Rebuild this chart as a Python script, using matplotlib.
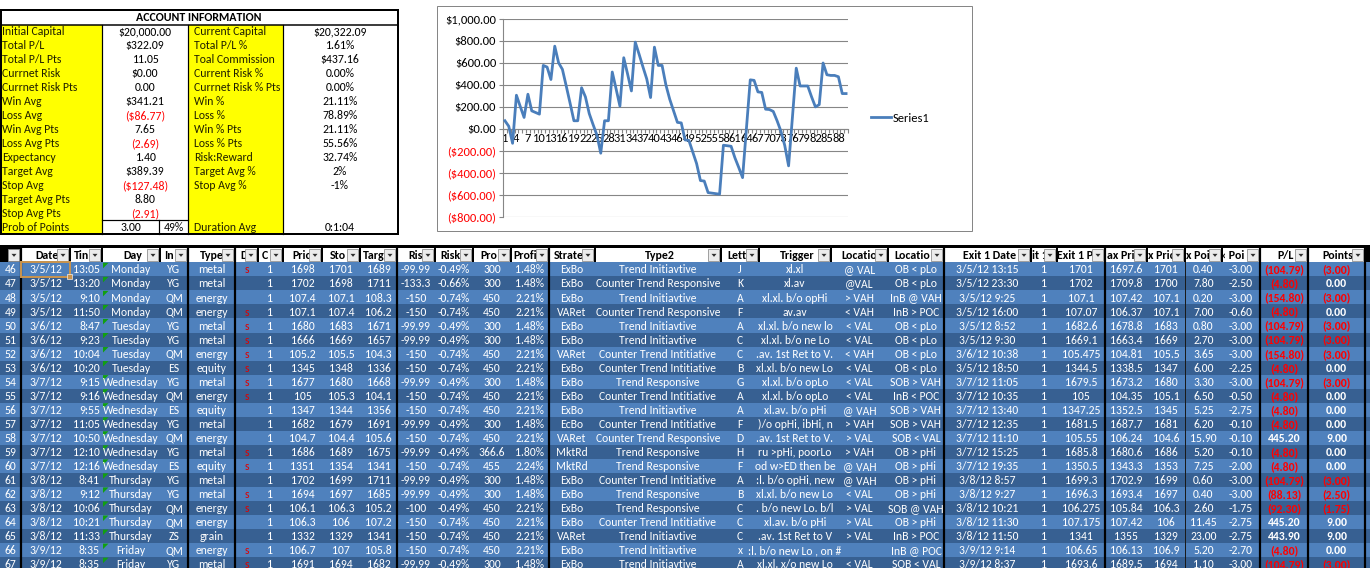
import matplotlib
matplotlib.use('Agg')
import matplotlib.pyplot as plt
from matplotlib.patches import Rectangle, Polygon
from matplotlib import font_manager
import numpy as np

_names = {f.name for f in font_manager.fontManager.ttflist}
FONT = next(n for n in ['Carlito', 'Liberation Sans', 'DejaVu Sans'] if n in _names)
plt.rcParams['font.family'] = [FONT, 'DejaVu Sans']

# ---------------- data: account information ----------------
info_labels_left = ['Initial Capital', 'Total P/L', 'Total P/L Pts', 'Currnet Risk', 'Currnet Risk Pts',
                    'Win Avg', 'Loss Avg', 'Win Avg Pts', 'Loss Avg Pts', 'Expectancy', 'Target Avg',
                    'Stop Avg', 'Target Avg Pts', 'Stop Avg Pts', 'Prob of Points']
info_values_left = ['$20,000.00', '$322.09', '11.05', '$0.00', '0.00', '$341.21', '($86.77)', '7.65',
                    '(2.69)', '1.40', '$389.39', '($127.48)', '8.80', '(2.91)', '3.00']
prob_points_pct = '49%'
info_labels_right = ['Current Capital', 'Total P/L %', 'Toal Commission', 'Current Risk %',
                     'Currnet Risk % Pts', 'Win %', 'Loss %', 'Win % Pts', 'Loss % Pts', 'Risk:Reward',
                     'Target Avg %', 'Stop Avg %', '', '', 'Duration Avg']
info_values_right = ['$20,322.09', '1.61%', '$437.16', '0.00%', '0.00%', '21.11%', '78.89%', '21.11%',
                     '55.56%', '32.74%', '2%', '-1%', '', '', '0:1:04']

# ---------------- data: cumulative P/L chart ----------------
cum_pl = [75, 25, -130, 307, 205, 105, 316, 165, 150, 135,
          578, 563, 450, 753, 602, 542, 390, 235, 75, 75,
          375, 292, 140, 40, -55, -220, 75, 75, 518, 365,
          208, 648, 500, 346, 790, 680, 565, 455, 286, 744,
          578, 578, 400, 270, 165.00, 60.21, 55.41, -99.39, -104.19, -208.98,
          -313.77, -468.57, -473.37, -578.16, -582.96, -587.76, -592.56, -147.36, -152.16, -156.96,
          -261.75, -349.88, -442.18, 3.02, 446.92, 442.12, 337.33, 332.53, 180, 177,
          160, 75, -20, -150, -335, 105, 553, 391, 391, 391,
          292, 201, 222, 600, 493, 487, 487, 475, 322.09, 322.09]
series_name = 'Series1'
y_ticks = [-800, -600, -400, -200, 0, 200, 400, 600, 800, 1000]

# ---------------- data: trade table ----------------
headers = ['', 'Date', 'Tin', 'Day', 'In', 'Type', 'D', 'C', 'Pric', 'Sto', 'Targ', 'Ris', 'Risk', 'Pro',
           'Profi', 'Strate', 'Type2', 'Lett', 'Trigger', 'Locatio', 'Locatio', 'Exit 1 Date', 'it 1',
           'Exit 1 P', 'ax Pric', 'x Pric', 'x Poi', '\u2039 Poi', 'P/L', 'Points']
row_nums = ['46', '47', '48', '49', '50', '51', '52', '53', '54', '55', '56', '57', '58', '59', '60',
            '61', '62', '63', '64', '65', '66', '67']
dates = ['3/5/12', '3/5/12', '3/5/12', '3/5/12', '3/6/12', '3/6/12', '3/6/12', '3/6/12', '3/7/12',
         '3/7/12', '3/7/12', '3/7/12', '3/7/12', '3/7/12', '3/7/12', '3/8/12', '3/8/12', '3/8/12',
         '3/8/12', '3/8/12', '3/9/12', '3/9/12']
times = ['13:05', '13:20', '9:10', '11:50', '8:47', '9:23', '10:04', '10:20', '9:15', '9:16', '9:55',
         '11:05', '10:50', '12:10', '12:16', '8:41', '9:12', '10:06', '10:21', '11:33', '8:35', '8:35']
days = ['Monday', 'Monday', 'Monday', 'Monday', 'Tuesday', 'Tuesday', 'Tuesday', 'Tuesday', 'Wednesday',
        'Wednesday', 'Wednesday', 'Wednesday', 'Wednesday', 'Wednesday', 'Wednesday', 'Thursday',
        'Thursday', 'Thursday', 'Thursday', 'Thursday', 'Friday', 'Friday']
instruments = ['YG', 'YG', 'QM', 'QM', 'YG', 'YG', 'QM', 'ES', 'YG', 'QM', 'ES', 'YG', 'QM', 'YG', 'ES',
               'YG', 'YG', 'QM', 'QM', 'ZS', 'QM', 'YG']
types = ['metal', 'metal', 'energy', 'energy', 'metal', 'metal', 'energy', 'equity', 'metal', 'energy',
         'equity', 'metal', 'energy', 'metal', 'equity', 'metal', 'metal', 'energy', 'energy', 'grain',
         'energy', 'metal']
directions = ['s', '', '', 's', 's', 's', 's', 's', 's', 's', '', '', '', 's', 's', '', 's', 's', '', '',
              's', 's']
contracts = ['1'] * 22
prices = ['1698', '1702', '107.4', '107.1', '1680', '1666', '105.2', '1345', '1677', '105', '1347',
          '1682', '104.7', '1686', '1351', '1702', '1694', '106.1', '106.3', '1332', '106.7', '1691']
stops = ['1701', '1698', '107.1', '107.4', '1683', '1669', '105.5', '1348', '1680', '105.3', '1344',
         '1679', '104.4', '1689', '1354', '1699', '1697', '106.3', '106', '1329', '107', '1694']
targets = ['1689', '1711', '108.3', '106.2', '1671', '1657', '104.3', '1336', '1668', '104.1', '1356',
           '1691', '105.6', '1675', '1341', '1711', '1685', '105.2', '107.2', '1341', '105.8', '1682']
risk_usd = ['-99.99', '-133.3', '-150', '-150', '-99.99', '-99.99', '-150', '-150', '-99.99', '-150',
            '-150', '-99.99', '-150', '-99.99', '-150', '-99.99', '-99.99', '-100', '-150', '-150',
            '-150', '-99.99']
risk_pct = ['-0.49%', '-0.66%', '-0.74%', '-0.74%', '-0.49%', '-0.49%', '-0.74%', '-0.74%', '-0.49%',
            '-0.74%', '-0.74%', '-0.49%', '-0.74%', '-0.49%', '-0.74%', '-0.49%', '-0.49%', '-0.49%',
            '-0.74%', '-0.74%', '-0.74%', '-0.49%']
profit_usd = ['300', '300', '450', '450', '300', '300', '450', '450', '300', '450', '450', '300', '450',
              '366.6', '455', '300', '300', '450', '450', '450', '450', '300']
profit_pct = ['1.48%', '1.48%', '2.21%', '2.21%', '1.48%', '1.48%', '2.21%', '2.21%', '1.48%', '2.21%',
              '2.21%', '1.48%', '2.21%', '1.80%', '2.24%', '1.48%', '1.48%', '2.21%', '2.21%', '2.21%',
              '2.21%', '1.48%']
strategies = ['ExBo', 'ExBo', 'ExBo', 'VARet', 'ExBo', 'ExBo', 'VARet', 'ExBo', 'ExBo', 'ExBo', 'ExBo',
              'EcBo', 'VARet', 'MktRd', 'MktRd', 'ExBo', 'ExBo', 'ExBo', 'ExBo', 'VARet', 'ExBo', 'ExBo']
type2 = ['Trend Initiavtive', 'Counter Trend Responsive', 'Trend Initiavtive', 'Counter Trend Responsive',
         'Trend Initiavtive', 'Trend Initiavtive', 'Counter Trend Intitiative',
         'Counter Trend Intitiative', 'Trend Responsive', 'Counter Trend Intitiative',
         'Trend Initiavtive', 'Counter Trend Intitiative', 'Counter Trend Responsive',
         'Trend Responsive', 'Trend Responsive', 'Counter Trend Intitiative', 'Trend Responsive',
         'Trend Responsive', 'Counter Trend Intitiative', 'Trend Initiavtive', 'Trend Initiavtive',
         'Trend Initiavtive']
letters = ['J', 'K', 'A', 'F', 'A', 'C', 'C', 'B', 'G', 'A', 'A', 'F', 'D', 'H', 'F', 'A', 'B', 'C', 'C',
           'C', 'x', 'A']
triggers = ['xl.xl', 'xl.av', 'xl.xl. b/o opHi', 'av.av', 'xl.xl. b/o new lo', 'xl.xl. b/o ne Lo',
            '.av. 1st Ret to V.', 'xl.xl. b/o new Lo', 'xl.xl. b/o opLo', 'xl.xl. b/o opLo',
            'xl.av. b/o pHi', ')/o opHi, ibHi, n', '.av. 1st Ret to V.', 'ru >pHi, poorLo',
            'od w>ED then be', ':l. b/o opHi, new', 'xl.xl. b/o new Lo', '. b/o new Lo. b/l',
            'xl.av. b/o pHi', '.av. 1st Ret to V', ':l. b/o new Lo , on #', 'xl.xl. x/o new Lo']
locations1 = ['@ VAL', '@VAL', '> VAH', '< VAH', '< VAL', '< VAL', '< VAH', '< VAL', '< VAL', '< VAL',
              '@ VAH', '> VAH', '> VAL', '> VAH', '@ VAH', '@ VAH', '< VAL', '> VAL', '> VAL', '> VAL',
              '', '< VAL']
locations2 = ['OB < pLo', 'OB < pLo', 'InB @ VAH', 'InB > POC', 'OB < pLo', 'OB < pLo', 'OB < pLo',
              'OB < pLo', 'SOB > VAH', 'InB < POC', 'SOB > VAH', 'SOB > VAH', 'SOB < VAL', 'OB > pHi',
              'OB > pHi', 'OB > pHi', 'OB > pHi', 'SOB @ VAH', 'OB > pHi', 'InB > POC', 'InB @ POC',
              'SOB < VAL']
exit_dates = ['3/5/12 13:15', '3/5/12 23:30', '3/5/12 9:25', '3/5/12 16:00', '3/5/12 8:52',
              '3/5/12 9:30', '3/6/12 10:38', '3/5/12 18:50', '3/7/12 11:05', '3/7/12 10:35',
              '3/7/12 13:40', '3/7/12 12:35', '3/7/12 11:10', '3/7/12 15:25', '3/7/12 19:35',
              '3/8/12 8:57', '3/8/12 9:27', '3/8/12 10:21', '3/8/12 11:30', '3/8/12 11:50',
              '3/9/12 9:14', '3/9/12 8:37']
exit_qty = ['1'] * 22
exit_prices = ['1701', '1702', '107.1', '107.07', '1682.6', '1669.1', '105.475', '1344.5', '1679.5',
               '105', '1347.25', '1681.5', '105.55', '1685.8', '1350.5', '1699.3', '1696.3', '106.275',
               '107.175', '1341', '106.65', '1693.6']
max_prices = ['1697.6', '1709.8', '107.42', '106.37', '1678.8', '1663.4', '104.81', '1338.5', '1673.2',
              '104.35', '1352.5', '1687.7', '106.24', '1680.6', '1343.3', '1702.9', '1693.4', '105.84',
              '107.42', '1355', '106.13', '1689.5']
min_prices = ['1701', '1700', '107.1', '107.1', '1683', '1669', '105.5', '1347', '1680', '105.1', '1345',
              '1681', '104.6', '1686', '1353', '1699', '1697', '106.3', '106', '1329', '106.9', '1694']
max_points = ['0.40', '7.80', '0.20', '7.00', '0.80', '2.70', '3.65', '6.00', '3.30', '6.50', '5.25',
              '6.20', '15.90', '5.20', '7.25', '0.60', '0.40', '2.60', '11.45', '23.00', '5.20', '1.10']
min_points = ['-3.00', '-2.50', '-3.00', '-0.60', '-3.00', '-3.00', '-3.00', '-2.25', '-3.00', '-0.50',
              '-2.75', '-0.10', '-0.10', '-0.10', '-2.00', '-3.00', '-3.00', '-1.75', '-2.75', '-2.75',
              '-2.70', '-3.00']
pl_values = ['(104.79)', '(4.80)', '(154.80)', '(4.80)', '(104.79)', '(104.79)', '(154.80)', '(4.80)',
             '(104.79)', '(4.80)', '(4.80)', '(4.80)', '445.20', '(4.80)', '(4.80)', '(104.79)',
             '(88.13)', '(92.30)', '445.20', '443.90', '(4.80)', '(104.79)']
points_values = ['(3.00)', '0.00', '(3.00)', '0.00', '(3.00)', '(3.00)', '(3.00)', '0.00', '(3.00)',
                 '0.00', '0.00', '0.00', '9.00', '0.00', '0.00', '(3.00)', '(2.50)', '(1.75)', '9.00',
                 '9.00', '0.00', '(3.00)']

columns = [row_nums, dates, times, days, instruments, types, directions, contracts, prices, stops,
           targets, risk_usd, risk_pct, profit_usd, profit_pct, strategies, type2, letters, triggers,
           locations1, locations2, exit_dates, exit_qty, exit_prices, max_prices, min_prices,
           max_points, min_points, pl_values, points_values]

# ---------------- layout (pixels) ----------------
W, H = 1370, 568
fig = plt.figure(figsize=(W / 100, H / 100), dpi=100)
bg = fig.add_axes([0, 0, 1, 1])
bg.set_xlim(0, W)
bg.set_ylim(H, 0)
bg.axis('off')

PX = 0.72  # points per pixel
BLACK = 'black'
YELLOW = '#ffff00'
RED = '#ff0000'
LABEL_C = '#202000'

# ---- account information block ----
ai_top, ai_title_b, ai_bot = 10, 24.5, 234
rh_ai = (ai_bot - ai_title_b) / 15.0
bg.add_patch(Rectangle((0, ai_top), 398, ai_bot - ai_top, fc='white', ec='none'))
bg.add_patch(Rectangle((0, ai_title_b), 102, ai_bot - ai_title_b, fc=YELLOW, ec='none'))
bg.add_patch(Rectangle((188, ai_title_b), 95, ai_bot - ai_title_b, fc=YELLOW, ec='none'))
bg.add_patch(Rectangle((0.8, ai_top), 397, ai_bot - ai_top, fill=False, ec=BLACK, lw=2 * PX))
bg.plot([0, 398], [ai_title_b, ai_title_b], color=BLACK, lw=1.5 * PX)
for xv in (102, 188, 283):
    bg.plot([xv, xv], [ai_title_b, ai_bot], color=BLACK, lw=1.2 * PX)
last_top = ai_title_b + 14 * rh_ai
bg.plot([102, 188], [last_top, last_top], color=BLACK, lw=1.2 * PX)
bg.plot([159, 159], [last_top, ai_bot], color=BLACK, lw=1.2 * PX)
bg.text(199, (ai_top + ai_title_b) / 2 + 0.5, 'ACCOUNT INFORMATION', ha='center', va='center',
        fontsize=8.6, fontweight='bold', color=BLACK)
FS_AI = 8.5
for k in range(15):
    yc = ai_title_b + (k + 0.5) * rh_ai + 0.5
    bg.text(2, yc, info_labels_left[k], ha='left', va='center', fontsize=FS_AI, color=LABEL_C)
    v = info_values_left[k]
    col = RED if v.startswith('(') else BLACK
    if k == 14:
        bg.text(130.5, yc, v, ha='center', va='center', fontsize=FS_AI, color=col)
        bg.text(173.5, yc, prob_points_pct, ha='center', va='center', fontsize=FS_AI, color=BLACK)
    else:
        bg.text(145, yc, v, ha='center', va='center', fontsize=FS_AI, color=col)
    bg.text(194, yc, info_labels_right[k], ha='left', va='center', fontsize=FS_AI, color=LABEL_C)
    bg.text(340, yc, info_values_right[k], ha='center', va='center', fontsize=FS_AI, color=BLACK)

# ---- chart ----
bg.add_patch(Rectangle((437, 6), 535, 225, fc='white', ec='#868686', lw=1 * PX))
cax = fig.add_axes([503 / W, 1 - 217 / H, 345 / W, 198 / H])
cax.patch.set_alpha(0)
xs = np.arange(1, len(cum_pl) + 1)
line, = cax.plot(xs, cum_pl, color='#4a7ebb', lw=2.0, solid_joinstyle='round', zorder=3)
cax.set_xlim(0.5, len(cum_pl) + 0.5)
cax.set_ylim(min(y_ticks), max(y_ticks))
cax.set_yticks(y_ticks)
cax.set_yticklabels([f'${v:,.2f}' if v >= 0 else f'(${-v:,.2f})' for v in y_ticks])
for lab, v in zip(cax.get_yticklabels(), y_ticks):
    lab.set_color(RED if v < 0 else BLACK)
cax.yaxis.grid(True, color='#868686', lw=0.8)
cax.set_axisbelow(True)
for s in ('top', 'right'):
    cax.spines[s].set_visible(False)
cax.spines['left'].set_color('#868686')
cax.spines['bottom'].set_color('#868686')
cax.spines['bottom'].set_position(('data', 0))
cax.spines['bottom'].set_zorder(2)
cax.set_xticks(xs[::3])
cax.set_xticklabels([str(v) for v in xs[::3]])
cax.set_xticks(np.arange(0.5, len(cum_pl) + 1, 1), minor=True)
cax.tick_params(axis='x', which='major', length=0, pad=3, labelsize=9)
cax.tick_params(axis='x', which='minor', length=3, width=0.8, color='#868686', direction='out')
cax.tick_params(axis='y', length=3, width=0.8, color='#868686', pad=2, labelsize=9)
fig.legend(handles=[line], labels=[series_name], loc='center left',
           bbox_to_anchor=(871 / W, 1 - 118 / H), frameon=False, handlelength=1.6,
           handletextpad=0.15, fontsize=9, borderaxespad=0, borderpad=0)

# ---- trade table ----
edges = [0, 21, 70, 102, 160, 188, 235, 258, 283, 322, 360, 397, 435, 473, 511, 549, 595, 721, 759,
         831, 888, 944, 1031, 1057, 1105, 1147, 1185, 1222, 1260, 1308, 1365, 1370]
hdr_text_x = [None, 35, 74, 123, 164, 200, 240, 262, 292, 330, 363, 408, 440, 480, 513, 554, 645, 727,
              780, 841, 894, 963, 1032, 1057, 1107, 1148, 1186, 1222, 1277, 1322]
thick = [21, 188, 235, 397, 549, 944, 1105, 1260, 1308, 1365]
hdr_top, hdr_cell_top, tbl_top = 245, 248, 262.3
rh = 14.04
n_rows = len(row_nums)
LIGHT, DARK = '#4f81bd', '#376092'
FS_T = 8.4

bg.add_patch(Rectangle((0, hdr_top), W, tbl_top - hdr_top, fc=BLACK, ec='none'))
for c in range(1, len(headers)):
    l, r = edges[c], edges[c + 1]
    bg.add_patch(Rectangle((l + 1, hdr_cell_top), r - l - 2, tbl_top - hdr_cell_top - 0.8,
                           fc='white', ec='none'))
    clip = Rectangle((l, hdr_top), r - l - 12, 20, transform=bg.transData)
    t = bg.text(hdr_text_x[c], (hdr_cell_top + tbl_top) / 2 + 0.3, headers[c], ha='left',
                va='center', fontsize=8.6, fontweight='bold', color=BLACK)
    t.set_clip_path(clip)
# dropdown buttons
for c in range(0, len(headers)):
    r = edges[c + 1]
    bx, by, bw, bh = r - 12.5, 249.3, 11, 11.5
    bg.add_patch(Rectangle((bx, by), bw, bh, fc='#ececec', ec='#8c8c8c', lw=0.8 * PX, zorder=4))
    cx, cy = bx + bw / 2, by + bh / 2
    bg.add_patch(Polygon([(cx - 2.5, cy - 1.2), (cx + 2.5, cy - 1.2), (cx, cy + 1.8)],
                         closed=True, fc='#303030', ec='none', zorder=5))

for i in range(n_rows):
    y0 = tbl_top + i * rh
    bg.add_patch(Rectangle((0, y0), W, rh, fc=LIGHT if i % 2 == 0 else DARK, ec='none'))

for c, values in enumerate(columns):
    l, r = edges[c], edges[c + 1]
    clip = Rectangle((l + 1, tbl_top), r - l - 2, H - tbl_top, transform=bg.transData)
    for i, v in enumerate(values):
        if not v:
            continue
        yc = tbl_top + (i + 0.5) * rh + 0.6
        color = 'white'
        weight = 'normal'
        if c == 6:
            color = '#e00000'
        if c >= 28:
            weight = 'bold'
            if v.startswith('('):
                color = RED
        if c == 2:
            t = bg.text(r - 2, yc, v, ha='right', va='center', fontsize=FS_T, color=color)
        else:
            t = bg.text((l + r) / 2, yc, v, ha='center', va='center', fontsize=FS_T, color=color,
                        fontweight=weight)
        t.set_clip_path(clip)

# green indicator triangles in Day cells
for i in range(n_rows):
    y0 = tbl_top + i * rh
    bg.add_patch(Polygon([(103, y0 + 0.5), (108.5, y0 + 0.5), (103, y0 + 6)], closed=True,
                         fc='#11a011', ec='none'))

# thick separators
for xv in thick:
    bg.plot([xv, xv], [hdr_top, H], color=BLACK, lw=2.2 * PX, solid_capstyle='butt')
bg.plot([1185, 1185], [tbl_top, H], color='#1a1a1a', lw=1 * PX)

# active cell
bg.add_patch(Rectangle((21.5, tbl_top), 49, rh + 0.5, fill=False, ec='#c69350', lw=2 * PX, zorder=6))
bg.add_patch(Rectangle((67.5, tbl_top + rh - 2.5), 5, 5, fc='#c69350', ec='white', lw=0.6 * PX, zorder=7))

fig.savefig('out.png', dpi=100)
